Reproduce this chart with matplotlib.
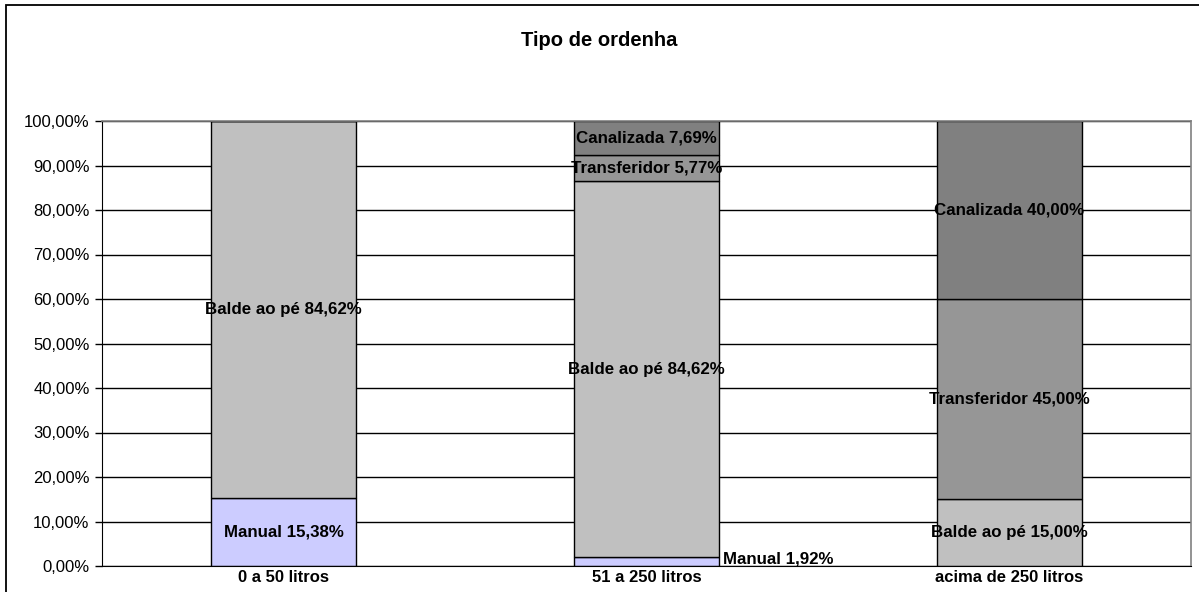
import matplotlib.pyplot as plt
from matplotlib.patches import Rectangle
import numpy as np

plt.rcParams['font.family'] = ['Liberation Sans', 'DejaVu Sans']

categories = ['0 a 50 litros', '51 a 250 litros', 'acima de 250 litros']
manual = [15.38, 1.92, 0.0]
balde = [84.62, 84.62, 15.00]
transferidor = [0.0, 5.77, 45.00]
canalizada = [0.0, 7.69, 40.00]

series = [
    ('Manual', manual, '#CCCCFF'),
    ('Balde ao pé', balde, '#C0C0C0'),
    ('Transferidor', transferidor, '#969696'),
    ('Canalizada', canalizada, '#808080'),
]

def fmt(v):
    return ('%.2f' % v).replace('.', ',') + '%'

fig = plt.figure(figsize=(11.99, 5.92), dpi=100)
ax = fig.add_axes([102 / 1199, 26 / 592, 1089 / 1199, 445 / 592])

# outer chart frame (clipped on right and bottom like the original)
fig.patches.append(Rectangle((6 / 1199, -0.05), 1.1, 0.05 + 587 / 592,
                             transform=fig.transFigure, fill=False,
                             edgecolor='black', linewidth=1.3))

x = np.arange(len(categories))
bottom = np.zeros(len(categories))
for name, vals, color in series:
    vals = np.array(vals)
    ax.bar(x, vals, width=0.4, bottom=bottom, color=color,
           edgecolor='black', linewidth=1.0, zorder=2)
    for i, v in enumerate(vals):
        if v <= 0:
            continue
        label = name + ' ' + fmt(v)
        if v < 3:
            ax.text(x[i] + 0.21, bottom[i] + v / 2 + 0.6, label, ha='left',
                    va='center', fontsize=12.2, fontweight='bold', zorder=3)
        else:
            ax.text(x[i], bottom[i] + v / 2, label, ha='center', va='center',
                    fontsize=12.2, fontweight='bold', zorder=3)
    bottom += vals

ax.set_xlim(-0.5, 2.5)
ax.set_ylim(0, 100)
ax.set_yticks(np.arange(0, 101, 10))
ax.set_yticklabels([('%.2f' % t).replace('.', ',') + '%' for t in np.arange(0, 101, 10)],
                   fontsize=12)
ax.set_xticks(x)
ax.set_xticklabels(categories, fontsize=12, fontweight='bold')
ax.tick_params(axis='x', length=0, pad=3)
ax.tick_params(axis='y', length=5, width=1, pad=4, direction='out')
ax.yaxis.grid(True, color='black', linewidth=1.0, zorder=0)
ax.set_axisbelow(True)

for s in ['top', 'right']:
    ax.spines[s].set_color('#808080')
    ax.spines[s].set_linewidth(1.2)
ax.spines['left'].set_color('black')
ax.spines['bottom'].set_color('black')

fig.text(0.5, 1 - 40 / 592, 'Tipo de ordenha', ha='center', va='center',
         fontsize=14.5, fontweight='bold')

fig.savefig('out.png', dpi=100)
